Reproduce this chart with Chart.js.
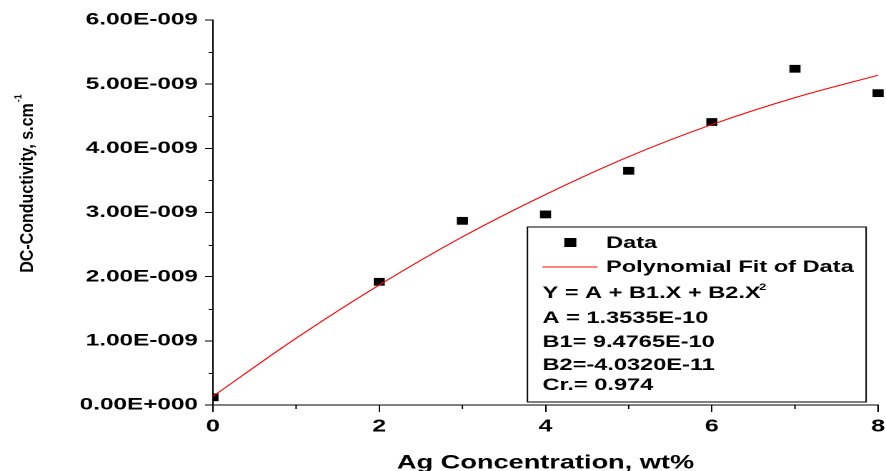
<!DOCTYPE html>
<html>
<head>
<meta charset="utf-8">
<script src="https://cdn.jsdelivr.net/npm/chart.js@4.4.1/dist/chart.umd.min.js"></script>
<style>
  html, body { margin: 0; padding: 0; background: #fff; overflow: hidden; }
  /* the reference figure is a horizontally stretched export, so draw narrow and stretch */
  #wrap { width: 620px; height: 471px; transform: scaleX(1.429); transform-origin: 0 0; }
</style>
</head>
<body>
<div id="wrap"><canvas id="my-grafic"></canvas></div>
<script>
// measured points (Ag wt%, DC conductivity in S/cm)
const agConc = [0, 2, 3, 4, 5, 6, 7, 8];
const conductivity = [1.2e-10, 1.92e-9, 2.87e-9, 2.97e-9, 3.65e-9, 4.41e-9, 5.24e-9, 4.86e-9];

// polynomial fit curve
const fitX = [0, 1, 2, 3, 4, 5, 6, 7, 8];
const fitY = [1.35e-10, 1.04e-9, 1.87e-9, 2.62e-9, 3.28e-9, 3.87e-9, 4.37e-9, 4.79e-9, 5.14e-9];

const yTickLabels = ['0.00E+000', '1.00E-009', '2.00E-009', '3.00E-009', '4.00E-009', '5.00E-009', '6.00E-009'];
const xTickLabels = ['0', '2', '4', '6', '8'];
const yMinor = [0.5e-9, 1.5e-9, 2.5e-9, 3.5e-9, 4.5e-9, 5.5e-9];
const xMinor = [1, 3, 5, 7];

const legendLines = ['A = 1.3535E-10', 'B1= 9.4765E-10', 'B2=-4.0320E-11', 'Cr.= 0.974'];

const FONT = '"Liberation Sans", Arial, sans-serif';

const extras = {
  id: 'extras',
  afterDraw(chart) {
    const ctx = chart.ctx;
    const area = chart.chartArea;
    const xs = chart.scales.x, ys = chart.scales.y;
    ctx.save();
    ctx.strokeStyle = '#000';
    ctx.lineWidth = 1;
    // minor ticks
    ctx.beginPath();
    yMinor.forEach(v => {
      const py = Math.round(ys.getPixelForValue(v)) + 0.5;
      ctx.moveTo(area.left - 3, py);
      ctx.lineTo(area.left, py);
    });
    xMinor.forEach(v => {
      const px = xs.getPixelForValue(v);
      ctx.moveTo(px, area.bottom);
      ctx.lineTo(px, area.bottom + 4);
    });
    ctx.stroke();

    // y axis title, drawn almost unstretched
    ctx.save();
    ctx.translate(23, 188);
    ctx.scale(0.8, 1);
    ctx.rotate(-Math.PI / 2);
    ctx.fillStyle = '#000';
    ctx.font = 'bold 16px ' + FONT;
    ctx.textAlign = 'center';
    ctx.textBaseline = 'alphabetic';
    const t = 'DC-Conductivity, s.cm';
    const tw = ctx.measureText(t).width;
    ctx.fillText(t, 0, 0);
    ctx.font = 'bold 9px ' + FONT;
    ctx.textAlign = 'left';
    ctx.fillText('-1', tw / 2 + 1, -10);
    ctx.restore();

    // legend box
    const bw = 237, bh = 175;
    const bx = area.right - 8.4 - bw;
    const by = area.bottom - 3 - bh;
    ctx.lineWidth = 1;
    ctx.strokeRect(bx, by, bw, bh);
    ctx.fillStyle = '#000';
    ctx.fillRect(bx + 25.8, by + 11, 8.4, 9);
    ctx.strokeStyle = '#ff0000';
    ctx.beginPath();
    ctx.moveTo(bx + 10.5, by + 40);
    ctx.lineTo(bx + 49, by + 40);
    ctx.stroke();
    ctx.font = 'bold 16.5px ' + FONT;
    ctx.textAlign = 'left';
    ctx.textBaseline = 'alphabetic';
    ctx.fillText('Data', bx + 55, by + 21);
    ctx.fillText('Polynomial Fit of Data', bx + 55, by + 45);
    const eq = 'Y = A + B1.X + B2.X';
    ctx.fillText(eq, bx + 10.5, by + 71);
    const ew = ctx.measureText(eq).width;
    ctx.font = 'bold 9px ' + FONT;
    ctx.fillText('2', bx + 10.5 + ew - 1, by + 63);
    ctx.font = 'bold 16.5px ' + FONT;
    const base = [96, 120, 143, 163];
    legendLines.forEach((s, i) => ctx.fillText(s, bx + 10.5, by + base[i]));
    ctx.restore();
  }
};

new Chart(document.getElementById('my-grafic'), {
  type: 'scatter',
  data: {
    datasets: [{
      label: 'Polynomial Fit of Data',
      data: fitX.map((x, i) => ({ x: x, y: fitY[i] })),
      showLine: true,
      borderColor: '#ff0000',
      borderWidth: 1,
      pointRadius: 0,
      cubicInterpolationMode: 'monotone',
      order: 0
    }, {
      label: 'Data',
      data: agConc.map((x, i) => ({ x: x, y: conductivity[i] })),
      pointStyle: 'rect',
      pointRadius: 5.5,
      pointHoverRadius: 5.5,
      backgroundColor: '#000',
      borderColor: '#000',
      borderWidth: 0,
      clip: { left: 0, top: false, right: false, bottom: false },
      order: 1
    }]
  },
  options: {
    responsive: true,
    maintainAspectRatio: false,
    animation: false,
    devicePixelRatio: 2,
    layout: { padding: { top: 20, right: 5, left: 0, bottom: 0 } },
    plugins: { legend: { display: false }, tooltip: { enabled: false } },
    scales: {
      x: {
        type: 'linear',
        min: 0, max: 8,
        afterFit: s => { s.height = 66; s.paddingRight = 0; s.paddingLeft = 0; },
        ticks: {
          stepSize: 2,
          color: '#000',
          padding: 4,
          maxRotation: 0,
          font: { family: FONT, size: 17.5, weight: 'bold' },
          callback: (v, i) => xTickLabels[i]
        },
        grid: { drawOnChartArea: false, color: '#000', tickLength: 7 },
        border: { color: '#000', width: 1 },
        title: {
          display: true,
          text: 'Ag Concentration, wt%',
          color: '#000',
          padding: 0,
          font: { family: FONT, size: 19, weight: 'bold', lineHeight: 0.8 }
        }
      },
      y: {
        min: 0, max: 6e-9,
        afterFit: s => { s.width = 149; },
        ticks: {
          stepSize: 1e-9,
          color: '#000',
          padding: 5,
          font: { family: FONT, size: 17, weight: 'bold' },
          callback: (v, i) => yTickLabels[i]
        },
        grid: { drawOnChartArea: false, color: '#000', tickLength: 5.5 },
        border: { color: '#000', width: 1 }
      }
    }
  },
  plugins: [extras]
});
</script>
</body>
</html>
